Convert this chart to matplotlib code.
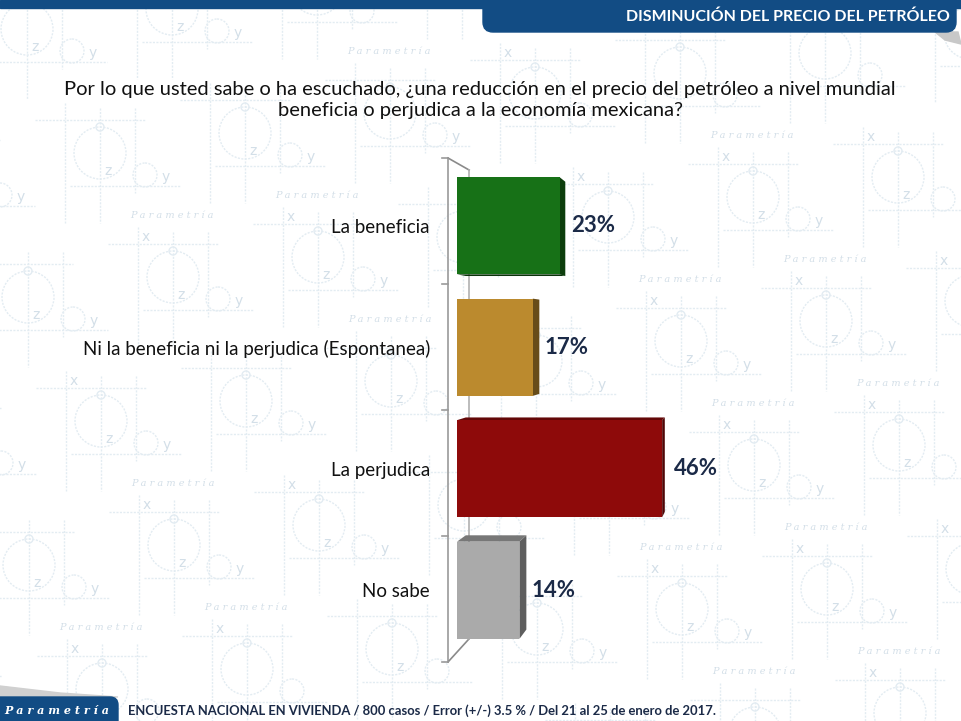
#!/usr/bin/env python3
"""Parametria poll: oil price drop and the Mexican economy (3D-ish horizontal bars)."""
import matplotlib

matplotlib.use("Agg")
import matplotlib.pyplot as plt
import numpy as np
from matplotlib.patches import Circle, FancyBboxPatch, Polygon, Rectangle
from matplotlib.transforms import ScaledTranslation

categories = [
    "La beneficia",
    "Ni la beneficia ni la perjudica (Espontanea)",
    "La perjudica",
    "No sabe",
]
values = [23, 17, 46, 14]
value_labels = ["23%", "17%", "46%", "14%"]
bar_colors = ["#177117", "#bb8a2e", "#8e0a0a", "#aaaaaa"]

title = ("Por lo que usted sabe o ha escuchado, \u00bfuna reducci\u00f3n en el precio del petr\u00f3leo a nivel mundial\n"
         "beneficia o perjudica a la econom\u00eda mexicana?")
header = "DISMINUCI\u00d3N DEL PRECIO DEL PETR\u00d3LEO"
footer = "ENCUESTA NACIONAL EN VIVIENDA / 800 casos / Error (+/-) 3.5 % / Del 21 al 25 de enero de 2017."
brand = "Parametr\u00eda"

W, H = 961, 721
FONT = ["Lato", "DejaVu Sans"]
NAVY = "#1b2a47"
BLUE = "#124c84"
WM_LINE = "#e3ecf2"
WM_TEXT = "#d3dfe8"

# boxes (px, y down) kept clear of watermark text
RESERVED = [
    (55, 72, 905, 126),    # title
    (470, 0, 961, 42),     # header tab
    (0, 688, 961, 721),    # footer
    (316, 210, 434, 238), (56, 338, 434, 366), (318, 460, 434, 490), (354, 588, 434, 616),
    (566, 212, 622, 244), (536, 334, 594, 366), (666, 454, 722, 486), (524, 576, 580, 608),
    (438, 150, 572, 284), (438, 284, 546, 402), (438, 412, 670, 524), (438, 524, 532, 670),
]


def free(x, y, hw, hh):
    if x - hw < 1 or x + hw > W - 1 or y - hh < 10 or y + hh > H - 1:
        return False
    for x0, y0, x1, y1 in RESERVED:
        if x + hw > x0 and x - hw < x1 and y + hh > y0 and y - hh < y1:
            return False
    return True


def shade(c, f):
    rgb = np.array(matplotlib.colors.to_rgb(c))
    return tuple(rgb * f)


fig = plt.figure(figsize=(W / 100, H / 100), dpi=100)
fig.patch.set_facecolor("white")

# background layer in pixel units (y down)
bg = fig.add_axes([0, 0, 1, 1], zorder=-5)
bg.set_xlim(0, W)
bg.set_ylim(H, 0)
bg.axis("off")

# watermark: the x/y/z motif repeated on a slanted lattice
dots = (0, (1.5, 1))
step_a = np.array([145.0, -20.0])
step_b = np.array([73.0, 124.0])
origin = np.array([100.0, 153.0])
for i in range(-4, 10):
    for j in range(-3, 9):
        cx, cy = origin + i * step_a + j * step_b
        if not (-80 < cx < W + 60 and -60 < cy < H + 60):
            continue
        kw = dict(color=WM_LINE, lw=1.0, ls=dots, zorder=0)
        bg.plot([cx - 35, cx - 35], [cy - 50, cy + 70], **kw)
        bg.plot([cx, cx], [cy - 45, cy + 70], **kw)
        bg.plot([cx + 35, cx + 35], [cy - 45, cy + 40], **kw)
        bg.plot([cx - 65, cx + 45], [cy - 33, cy - 33], **kw)
        bg.plot([cx - 30, cx + 80], [cy + 33, cy + 33], **kw)
        bg.add_patch(Circle((cx, cy), 26, fill=False, ec=WM_LINE, lw=1.0, ls=dots, zorder=0))
        bg.add_patch(Circle((cx, cy - 26), 4, fill=False, ec=WM_LINE, lw=1.0, zorder=0))
        bg.add_patch(Circle((cx + 45, cy + 22), 12, fill=False, ec=WM_LINE, lw=1.0, ls=dots, zorder=0))
        for dx, dy, s in [(-27, -40, "x"), (8, 18, "z"), (66, 24, "y")]:
            if free(cx + dx, cy + dy, 5, 7):
                bg.text(cx + dx, cy + dy, s, color=WM_TEXT, fontsize=10, ha="center",
                        va="center", zorder=1)
        if free(cx + 72, cy + 62, 44, 6):
            bg.text(cx + 72, cy + 62, " ".join(brand), color=WM_TEXT, fontsize=7,
                    style="italic", family="DejaVu Serif", ha="center", va="center", zorder=1)

# header band and tab
bg.add_patch(Rectangle((0, 0), W, 8, color=BLUE, zorder=2))
bg.add_patch(Polygon([[935, 32], [958, 32], [961, 44], [945, 40]], closed=True,
                     color="#c8c8c8", zorder=2))
bg.add_patch(FancyBboxPatch((483, -30), 473, 62, boxstyle="round,pad=0,rounding_size=10",
                            color=BLUE, zorder=3))
bg.text(950, 17, header, color="white", fontsize=11.5, fontweight="bold", family=FONT,
        ha="right", va="center", zorder=4)

# footer
bg.add_patch(Polygon([[0, 686], [60, 693], [118, 697], [0, 697]], closed=True,
                     color="#d0d0d0", zorder=2))
bg.add_patch(FancyBboxPatch((-20, 697), 138, 44, boxstyle="round,pad=0,rounding_size=8",
                            color=BLUE, zorder=3))
bg.text(57, 710, " ".join(brand), color="white", fontsize=8, fontweight="bold",
        style="italic", family="DejaVu Serif", ha="center", va="center", zorder=4)
bg.text(128, 711, footer, color=NAVY, fontsize=9.4, fontweight="bold", family=FONT,
        ha="left", va="center", zorder=4)

# title
fig.text(480 / W, 1 - 100 / H, title, ha="center", va="center", fontsize=14.5,
         color="#111111", family=FONT, linespacing=1.35)

# main chart axes: bars start at x=457px, 4.46 px per percent
ax_l, ax_r = 457, 903
ax_t, ax_b = 165, 651
ax = fig.add_axes([ax_l / W, 1 - ax_b / H, (ax_r - ax_l) / W, (ax_b - ax_t) / H], zorder=1)
ax.set_xlim(0, 100)
ax.set_ylim(len(categories) - 0.5, -0.5)
ax.patch.set_alpha(0)
for s in ax.spines.values():
    s.set_visible(False)
ax.set_xticks([])
ax.set_yticks(range(len(categories)))
ax.set_yticklabels(categories, fontsize=13.5, color="#111111", family=FONT)
ax.tick_params(axis="y", length=0, pad=19.5)

ypos = np.arange(len(categories))
bars = ax.barh(ypos, values, height=0.8, color=bar_colors, zorder=3)

# perspective depth toward a vanishing point (display px, y up)
vp = np.array([750.0, H - 330.0])
to_disp = ax.transData.transform
to_data = ax.transData.inverted().transform
t_bar = 0.03


def back(pts, t):
    pts = np.asarray(pts, dtype=float)
    return pts + t * (vp - pts)


for b, c in zip(bars, bar_colors):
    x0, y0 = b.get_x(), b.get_y()
    x1, y1 = x0 + b.get_width(), y0 + b.get_height()
    # y axis inverted: y0 is the top edge on screen, y1 the bottom edge
    tl, tr = to_disp((x0, y0)), to_disp((x1, y0))
    bl, br = to_disp((x0, y1)), to_disp((x1, y1))
    faces = [([tr, br, back(br, t_bar), back(tr, t_bar)], shade(c, 0.55))]
    if tl[1] < vp[1]:
        faces.append(([tl, tr, back(tr, t_bar), back(tl, t_bar)], shade(c, 0.7)))
    if bl[1] > vp[1]:
        faces.append(([bl, br, back(br, t_bar), back(bl, t_bar)], shade(c, 0.45)))
    for pts, fc in faces:
        ax.add_patch(Polygon(to_data(np.array(pts)), closed=True, fc=fc, ec="none",
                             zorder=2, clip_on=False))

# value labels
offset = ScaledTranslation(12 / 100, 0, fig.dpi_scale_trans)
for v, lab, y in zip(values, value_labels, ypos):
    ax.text(v, y, lab, transform=ax.transData + offset, ha="left", va="center",
            fontsize=16, fontweight="bold", color=NAVY, family=FONT, zorder=4)

# 3D wall lines at the left
front_x = to_disp((0, 0))[0] - 9
top_y = H - 158
bot_y = H - 662
ft, fb = np.array([front_x, top_y]), np.array([front_x, bot_y])
bt, bb = back(ft, 0.07), back(fb, 0.07)
wall = [
    ([ft, fb], "#9a9a9a"),
    ([ft, bt], "#8a8a8a"),
    ([fb, bb], "#8a8a8a"),
    ([bt, bb], "#b0b0b0"),
]
for seg, col in wall:
    d = to_data(np.array(seg))
    ax.plot(d[:, 0], d[:, 1], color=col, lw=1.2, zorder=1, clip_on=False)
for ty in np.linspace(top_y, bot_y, len(categories) + 1):
    d = to_data(np.array([[front_x - 6, ty], [front_x, ty]]))
    ax.plot(d[:, 0], d[:, 1], color="#9a9a9a", lw=1.2, zorder=1, clip_on=False)

fig.savefig("out.png", dpi=100, facecolor="white")
